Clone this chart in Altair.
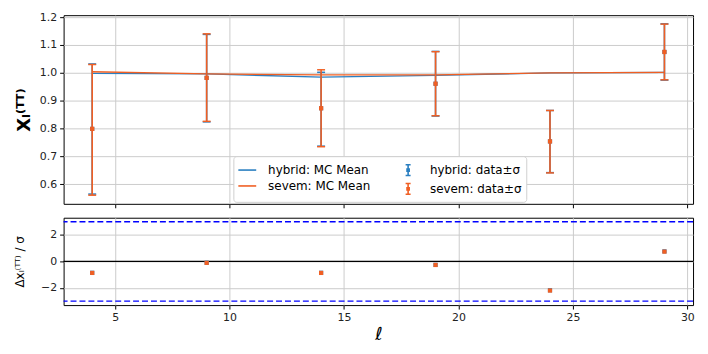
import altair as alt
import pandas as pd

ells = [4, 9, 14, 19, 24, 29]

# MC mean
hyb_mean = [0.998, 0.996, 0.985, 0.991, 1.000, 1.002]
sev_mean = [1.004, 0.996, 0.993, 0.993, 1.000, 1.002]

# data and sigma bounds
hyb_val = [0.799, 0.982, 0.873, 0.961, 0.754, 1.075]
hyb_lo = [0.565, 0.824, 0.737, 0.845, 0.642, 0.974]
hyb_hi = [1.032, 1.138, 1.002, 1.077, 0.865, 1.176]
sev_val = [0.799, 0.982, 0.873, 0.961, 0.754, 1.075]
sev_lo = [0.561, 0.826, 0.735, 0.846, 0.641, 0.975]
sev_hi = [1.030, 1.140, 1.011, 1.076, 0.865, 1.175]

# residuals
hyb_res = [-0.86, -0.10, -0.86, -0.26, -2.18, 0.76]
sev_res = [-0.87, -0.11, -0.87, -0.27, -2.20, 0.74]

BLUE = "#2a7fc1"
ORANGE = "#f05f23"

mean_labels = ["hybrid: MC Mean", "sevem: MC Mean"]
data_labels = ["hybrid: data\u00b1\u03c3", "sevem: data\u00b1\u03c3"]
pair_colors = [BLUE, ORANGE]
ebar_path = "M-0.28,-0.6H0.28M0,-0.6V0.6M-0.28,0.6H0.28M-0.12,-0.12H0.12V0.12H-0.12Z"

mean_df = pd.DataFrame({
    "ell": ells * 2,
    "mean": hyb_mean + sev_mean,
    "label": [mean_labels[0]] * 6 + [mean_labels[1]] * 6,
})
data_df = pd.DataFrame({
    "ell": ells * 2,
    "val": hyb_val + sev_val,
    "lo": hyb_lo + sev_lo,
    "hi": hyb_hi + sev_hi,
    "res": hyb_res + sev_res,
    "label": [data_labels[0]] * 6 + [data_labels[1]] * 6,
    "order": [0] * 6 + [1] * 6,
})

FONT = "DejaVu Sans"
xscale = alt.Scale(domain=[2.75, 30.25], nice=False, zero=False)
yscale_top = alt.Scale(domain=[0.53, 1.207], nice=False, zero=False)
yscale_bot = alt.Scale(domain=[-3.3, 3.3], nice=False, zero=False)

common_leg = dict(
    title=None, orient="none", padding=4, rowPadding=0,
    labelFont=FONT, labelFontSize=12, labelColor="black",
    symbolSize=324, symbolStrokeWidth=1.6, legendY=142, legendX=171,
)
legend_mean = alt.Legend(symbolType="stroke", labelOffset=11, zindex=2, **common_leg)
legend_data = alt.Legend(symbolType=ebar_path, symbolOffset=162, labelOffset=12,
                         symbolFillColor="transparent", fillColor="white",
                         strokeColor="#d0d0d0", cornerRadius=3, zindex=1, **common_leg)

stroke_enc = alt.Stroke("label:N", scale=alt.Scale(domain=mean_labels, range=pair_colors),
                        legend=legend_mean)


def cenc():
    return alt.Color("label:N", scale=alt.Scale(domain=data_labels, range=pair_colors),
                     legend=legend_data)


def fenc():
    return alt.Fill("label:N", scale=alt.Scale(domain=data_labels, range=pair_colors),
                    legend=None)


xaxis_top = alt.Axis(values=[5, 10, 15, 20, 25, 30], labels=False, title=None,
                     grid=True, ticks=True, tickSize=4)
yaxis_top = alt.Axis(values=[0.6, 0.7, 0.8, 0.9, 1.0, 1.1, 1.2], format=".1f",
                     title="X\u2097\u207d\u1d40\u1d40\u207e", titleFontSize=18,
                     titleFontWeight="bold", titlePadding=6, grid=True, tickSize=4)


def xt():
    return alt.X("ell:Q", scale=xscale, axis=xaxis_top)


def yt(field):
    return alt.Y(f"{field}:Q", scale=yscale_top, axis=yaxis_top)


lines = alt.Chart(mean_df).mark_line(strokeWidth=1.3).encode(
    x=xt(), y=yt("mean"), stroke=stroke_enc, detail="label:N",
)


def bars(df):
    v = alt.Chart(df).mark_rule(strokeWidth=1.6).encode(
        x=xt(), y=yt("lo"), y2="hi:Q", color=cenc())
    c1 = alt.Chart(df).mark_rule(strokeWidth=1.5, xOffset=-4, x2Offset=4).encode(
        x=xt(), x2="ell:Q", y=yt("hi"), color=cenc())
    c2 = alt.Chart(df).mark_rule(strokeWidth=1.5, xOffset=-4, x2Offset=4).encode(
        x=xt(), x2="ell:Q", y=yt("lo"), color=cenc())
    p = alt.Chart(df).mark_point(filled=True, shape="square", size=18, opacity=1,
                                 strokeWidth=0).encode(
        x=xt(), y=yt("val"), fill=fenc())
    return [v, c1, c2, p]


hyb_df = data_df[data_df["order"] == 0]
sev_df = data_df[data_df["order"] == 1]

top = alt.layer(lines, *bars(hyb_df), *bars(sev_df)).properties(width=634, height=190)

# bottom panel
ref_df = pd.DataFrame({"y": [3.0, -3.0]})
zero_df = pd.DataFrame({"y": [0.0]})

xaxis_bot = alt.Axis(values=[5, 10, 15, 20, 25, 30], title="\u2113", titleFontSize=18,
                     titleFontStyle="italic", titleFontWeight="normal", titlePadding=3,
                     grid=True, tickSize=4)
yaxis_bot = alt.Axis(values=[-2, 0, 2], title="\u0394x\u2097\u207d\u1d40\u1d40\u207e / \u03c3",
                     titleFontSize=12, titleFontWeight="normal", titlePadding=14,
                     grid=True, tickSize=4)

res_pts = alt.Chart(data_df).mark_point(filled=True, shape="square", size=18, opacity=1,
                                        strokeWidth=0).encode(
    x=alt.X("ell:Q", scale=xscale, axis=xaxis_bot),
    y=alt.Y("res:Q", scale=yscale_bot, axis=yaxis_bot),
    fill=alt.Fill("label:N", scale=alt.Scale(domain=data_labels, range=pair_colors), legend=None),
    order="order:Q",
)
dashed = alt.Chart(ref_df).mark_rule(color="#0000ff", strokeDash=[6, 3], strokeWidth=1.5).encode(
    y=alt.Y("y:Q", scale=yscale_bot, axis=yaxis_bot)
)
zero = alt.Chart(zero_df).mark_rule(color="black", strokeWidth=1.3).encode(
    y=alt.Y("y:Q", scale=yscale_bot, axis=yaxis_bot)
)
bottom = alt.layer(dashed, zero, res_pts).properties(width=634, height=88)

chart = alt.vconcat(top, bottom, spacing=8).resolve_scale(
    color="independent", fill="independent", stroke="independent"
).properties(
    padding={"top": 1, "left": 5, "right": 5, "bottom": 5}
).configure(
    font=FONT
).configure_view(
    stroke="black", strokeWidth=1
).configure_axis(
    labelFont=FONT, labelFontSize=11, labelColor="#222222",
    titleFont=FONT, titleColor="black",
    gridColor="#cccccc", gridWidth=1,
    domain=False, tickColor="black", labelPadding=3,
)

chart.save("out.html", embed_options={"renderer": "svg", "actions": False})
